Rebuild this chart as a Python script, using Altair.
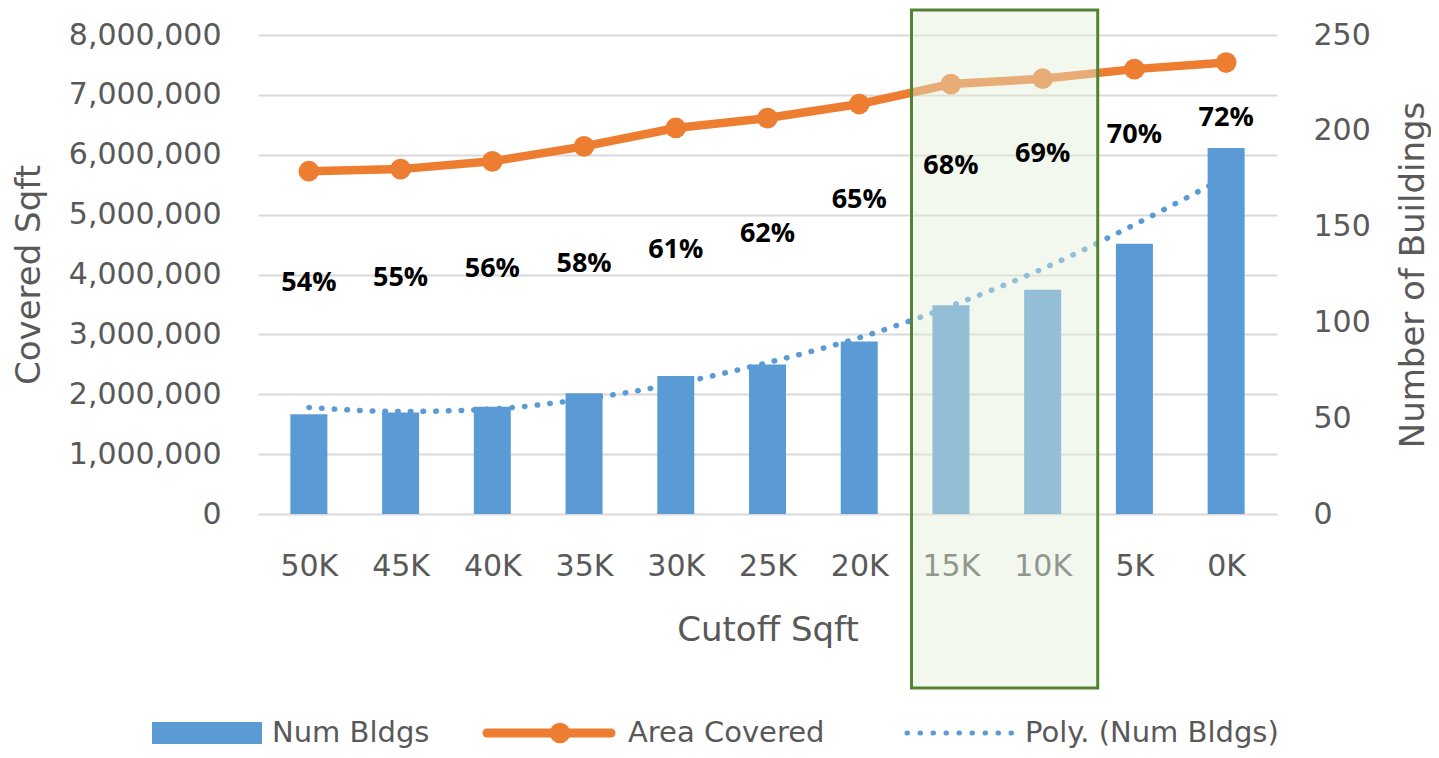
import altair as alt
import pandas as pd

# ---------------- data ----------------
categories = ["50K", "45K", "40K", "35K", "30K", "25K", "20K", "15K", "10K", "5K", "0K"]
num_bldgs = [52, 53, 56, 63, 72, 78, 90, 109, 117, 141, 191]
area_covered = [5725000, 5760000, 5890000, 6140000, 6447000, 6613000,
                6847000, 7180000, 7270000, 7430000, 7540000]
trend_num_bldgs = [55.6, 53.5, 54.8, 60, 68, 79, 92, 108.6, 128, 151, 176]
pct_labels = ["54%", "55%", "56%", "58%", "61%", "62%", "65%", "68%", "69%", "70%", "72%"]
pct_label_sqft = [3858000, 3947000, 4092000, 4175000, 4408000, 4675000,
                  5242000, 5808000, 6008000, 6325000, 6608000]
highlight_from = 6.57   # box around 15K / 10K (category index units)
highlight_to = 8.60

idx = list(range(len(categories)))
df = pd.DataFrame({
    "i": idx, "cat": categories, "bldgs": num_bldgs, "area": area_covered,
    "trend": trend_num_bldgs, "pct": pct_labels, "pct_y": pct_label_sqft,
})
hl = pd.DataFrame({"hs": [highlight_from], "he": [highlight_to]})

FONT = "DejaVu Sans"
GRAY = "#595959"
BLUE = "#5B9BD5"
ORANGE = "#ED7D31"

W, H = 1019, 479

x_scale = alt.Scale(domain=[-0.5, len(categories) - 0.5], nice=False, zero=False)
label_expr = "[" + ",".join(f"'{c}'" for c in categories) + "][datum.value]"
x_axis = alt.Axis(values=idx, labelExpr=label_expr, title="Cutoff Sqft", grid=False,
                  ticks=False, domain=False, labelFont=FONT, labelFontSize=30,
                  labelColor=GRAY, labelPadding=37, labelFlush=False, labelOverlap=False,
                  titleFont=FONT, titleFontSize=34, titleFontWeight="normal",
                  titleColor=GRAY, titleY=126, titleBaseline="alphabetic")

right_scale = alt.Scale(domain=[0, 250], nice=False)
right_axis = alt.Axis(orient="right", values=[0, 50, 100, 150, 200, 250], grid=False,
                      ticks=False, domain=False, labelFont=FONT, labelFontSize=30,
                      labelColor=GRAY, labelPadding=36, labelOverlap=False,
                      title="Number of Buildings", titleFont=FONT, titleFontSize=34,
                      titleFontWeight="normal", titleColor=GRAY, titleAngle=270,
                      titleBaseline="middle", titleAlign="center",
                      titleX=136, titleY=H / 2)

left_scale = alt.Scale(domain=[0, 8000000], nice=False)
left_axis = alt.Axis(orient="left", values=list(range(0, 8000001, 1000000)), format=",.0f",
                     grid=True, gridColor="#D9D9D9", gridWidth=2, ticks=False,
                     domain=False, labelFont=FONT, labelFontSize=30, labelColor=GRAY,
                     labelPadding=37, labelOverlap=False,
                     title="Covered Sqft", titleFont=FONT, titleFontSize=34,
                     titleFontWeight="normal", titleColor=GRAY, titleAngle=270,
                     titleBaseline="middle", titleAlign="center",
                     titleX=-229, titleY=H / 2)

base = alt.Chart(df)
X = alt.X("i:Q", scale=x_scale, axis=x_axis)

bars = base.mark_bar(size=37, color=BLUE).encode(
    x=X, y=alt.Y("bldgs:Q", scale=right_scale, axis=right_axis))
trend = base.mark_line(color=BLUE, strokeWidth=5.5, strokeDash=[0.5, 12.2],
                       strokeCap="round", interpolate="monotone").encode(
    x=X, y=alt.Y("trend:Q", scale=right_scale, axis=right_axis))
group_right = alt.layer(bars, trend)

line = base.mark_line(color=ORANGE, strokeWidth=8.5).encode(
    x=X, y=alt.Y("area:Q", scale=left_scale, axis=left_axis))
pts = base.mark_point(filled=True, opacity=1, size=430, color=ORANGE, shape="circle").encode(
    x=X, y=alt.Y("area:Q", scale=left_scale, axis=left_axis))

overlay = alt.Chart(hl).mark_rect(fill="#E2EFDA", fillOpacity=0.42, stroke="#548235",
                                  strokeWidth=3, strokeOpacity=1).encode(
    x=alt.X("hs:Q", scale=x_scale, axis=x_axis), x2="he:Q",
    y=alt.value(-25), y2=alt.value(653))

labels = base.mark_text(font="Open Sans", fontSize=27, fontWeight="bold", color="#000000",
                        baseline="middle", align="center").encode(
    x=X, y=alt.Y("pct_y:Q", scale=left_scale, axis=left_axis), text="pct:N")

# ---------------- legend (drawn as annotation) ----------------
one = pd.DataFrame({"a": [0]})
LY = 698
leg_txt_style = dict(font=FONT, fontSize=29, color=GRAY, align="left", baseline="middle")
leg_bar = alt.Chart(one).mark_rect(color=BLUE).encode(
    x=alt.value(-106), x2=alt.value(4), y=alt.value(LY - 11), y2=alt.value(LY + 11))
leg_bar_t = alt.Chart(one).mark_text(text="Num Bldgs", **leg_txt_style).encode(
    x=alt.value(14), y=alt.value(LY))
leg_line = alt.Chart(one).mark_rule(color=ORANGE, strokeWidth=9, strokeCap="round").encode(
    x=alt.value(229), x2=alt.value(353), y=alt.value(LY))
leg_pt = alt.Chart(one).mark_point(filled=True, opacity=1, size=430, color=ORANGE,
                                   shape="circle").encode(x=alt.value(302), y=alt.value(LY))
leg_line_t = alt.Chart(one).mark_text(text="Area Covered", **leg_txt_style).encode(
    x=alt.value(370), y=alt.value(LY))
leg_dot = alt.Chart(one).mark_rule(color=BLUE, strokeWidth=5, strokeDash=[0.5, 12.5],
                                   strokeCap="round").encode(
    x=alt.value(649), x2=alt.value(754), y=alt.value(LY))
leg_dot_t = alt.Chart(one).mark_text(text="Poly. (Num Bldgs)", **leg_txt_style).encode(
    x=alt.value(767), y=alt.value(LY))

group_left = alt.layer(line, pts, overlay, labels, leg_bar, leg_bar_t, leg_line, leg_pt,
                       leg_line_t, leg_dot, leg_dot_t)

chart = alt.layer(group_right, group_left).resolve_scale(y="independent").properties(
    width=W, height=H,
    autosize=alt.AutoSizeParams(type="none"),
    padding={"left": 250, "top": 27, "right": 1423 - 250 - W, "bottom": 742 - 27 - H},
    background="white",
).configure_view(stroke=None)

chart.save("out.html", embed_options={"renderer": "svg", "actions": False})
